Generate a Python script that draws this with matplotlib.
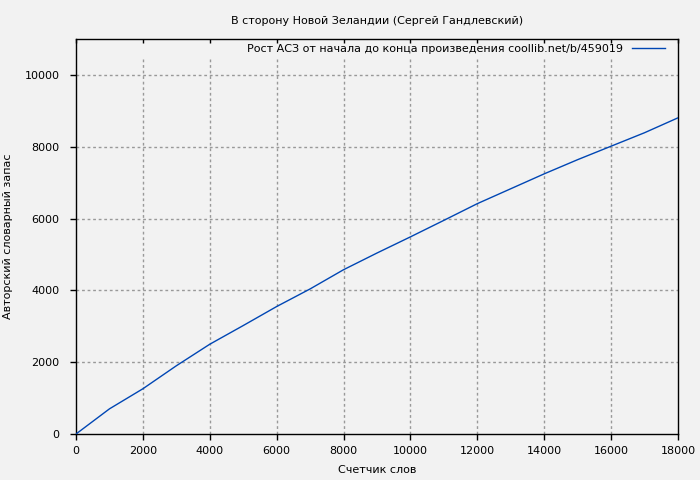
import matplotlib
matplotlib.use("Agg")
import matplotlib.pyplot as plt

# word counter vs vocabulary size
words = [0, 1000, 2000, 3000, 4000, 5000, 6000, 7000, 8000, 9000,
         10000, 11000, 12000, 13000, 14000, 15000, 16000, 17000, 18000]
vocab = [0, 700, 1260, 1900, 2500, 3020, 3550, 4040, 4575, 5040,
         5490, 5950, 6415, 6830, 7245, 7640, 8015, 8390, 8805]

x_ticks = [0, 2000, 4000, 6000, 8000, 10000, 12000, 14000, 16000, 18000]
y_ticks = [0, 2000, 4000, 6000, 8000, 10000]

title = "В сторону Новой Зеландии (Сергей Гандлевский)"
series_label = "Рост АСЗ от начала до конца произведения coollib.net/b/459019"
xlabel = "Счетчик слов"
ylabel = "Авторский словарный запас"

bg = "#f2f2f2"
plt.rcParams["font.family"] = ["DejaVu Sans"]

fig = plt.figure(figsize=(7, 4.8), dpi=100, facecolor=bg)
ax = fig.add_axes([76 / 700, 46 / 480, 602 / 700, 395 / 480], facecolor=bg)

# grid (vertical lines stop below the key area, like gnuplot)
grid_top = 10500
ax.vlines(x_ticks[1:-1], 0, grid_top, colors="#999999", linestyles=(0, (2, 2)), linewidth=1, zorder=1)
ax.hlines(y_ticks[1:], 0, 18000, colors="#999999", linestyles=(0, (2, 2)), linewidth=1, zorder=1)

ax.plot(words, vocab, color="#0046b4", linewidth=1, label=series_label, zorder=3)

ax.set_xlim(0, 18000)
ax.set_ylim(0, 11000)
ax.set_xticks(x_ticks)
ax.set_yticks(y_ticks)
ax.tick_params(axis="both", direction="out", length=4, width=1, labelsize=8, colors="black")
ax.tick_params(axis="x", pad=5)
ax.tick_params(axis="y", pad=8)
ax.tick_params(axis="x", top=True, bottom=True)
for t in ax.xaxis.get_major_ticks():
    t.tick2line.set_marker(3)  # inward mark at top border
    t.tick2line.set_markersize(3)
for s in ax.spines.values():
    s.set_linewidth(1)
    s.set_color("black")

ax.set_title(title, fontsize=8, pad=11)
ax.set_xlabel(xlabel, fontsize=8, labelpad=6)
ax.set_ylabel(ylabel, fontsize=8, labelpad=8)

leg = ax.legend(loc="center right", bbox_to_anchor=(0.9784, 0.9747), fontsize=8,
                frameon=False, markerfirst=False, handlelength=3.0,
                borderaxespad=0, borderpad=0, handletextpad=0.8)

fig.savefig("out.png", dpi=100, facecolor=bg)
